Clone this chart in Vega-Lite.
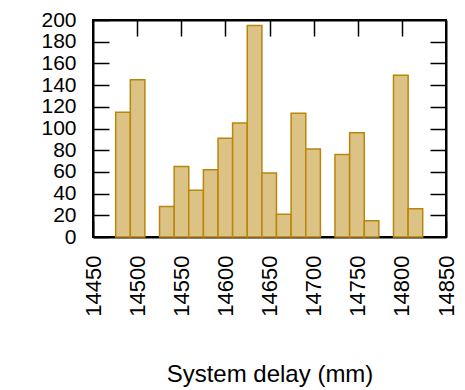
{
  "$schema": "https://vega.github.io/schema/vega-lite/v6.json",
  "width": 353,
  "height": 217,
  "autosize": {"type": "none"},
  "padding": {"left": 93, "top": 20, "right": 19, "bottom": 153},
  "background": "white",
  "config": {
    "font": "Liberation Sans",
    "view": {"stroke": "black", "strokeWidth": 2},
    "axis": {
      "labelFont": "Liberation Sans",
      "titleFont": "Liberation Sans",
      "labelColor": "black",
      "titleColor": "black",
      "domainColor": "black",
      "domainWidth": 2,
      "tickColor": "black",
      "tickWidth": 1.5,
      "grid": false
    }
  },
  "data": {
    "values": [
      {"bin_start": 14475.7, "bin_end": 14492.3, "count": 115},
      {"bin_start": 14492.3, "bin_end": 14508.8, "count": 145},
      {"bin_start": 14525.4, "bin_end": 14542.0, "count": 28},
      {"bin_start": 14542.0, "bin_end": 14558.5, "count": 65},
      {"bin_start": 14558.5, "bin_end": 14575.1, "count": 43},
      {"bin_start": 14575.1, "bin_end": 14591.7, "count": 62},
      {"bin_start": 14591.7, "bin_end": 14608.2, "count": 91},
      {"bin_start": 14608.2, "bin_end": 14624.8, "count": 105},
      {"bin_start": 14624.8, "bin_end": 14641.4, "count": 195},
      {"bin_start": 14641.4, "bin_end": 14657.9, "count": 59},
      {"bin_start": 14657.9, "bin_end": 14674.5, "count": 21},
      {"bin_start": 14674.5, "bin_end": 14691.1, "count": 114},
      {"bin_start": 14691.1, "bin_end": 14707.7, "count": 81},
      {"bin_start": 14724.2, "bin_end": 14740.8, "count": 76},
      {"bin_start": 14740.8, "bin_end": 14757.4, "count": 96},
      {"bin_start": 14757.4, "bin_end": 14773.9, "count": 15},
      {"bin_start": 14790.5, "bin_end": 14807.1, "count": 149},
      {"bin_start": 14807.1, "bin_end": 14823.6, "count": 26}
    ]
  },
  "layer": [
    {
      "mark": {"type": "bar", "opacity": 0},
      "encoding": {
        "x": {
          "field": "bin_start", "type": "quantitative",
          "scale": {"domain": [14450, 14850], "nice": false, "zero": false},
          "axis": {"orient": "top", "labels": false, "title": null, "values": [14500, 14550, 14600, 14650, 14700, 14750, 14800], "tickSize": -16}
        },
        "x2": {"field": "bin_end"},
        "y": {
          "field": "count", "type": "quantitative", "stack": null,
          "scale": {"domain": [0, 200], "nice": false},
          "axis": {"orient": "right", "labels": false, "title": null, "values": [20, 40, 60, 80, 100, 120, 140, 160, 180], "tickSize": -16}
        },
        "y2": {"datum": 0}
      }
    },
    {
      "mark": {"type": "bar", "fill": "#dcc385", "stroke": "#b8860b", "strokeWidth": 1.5, "fillOpacity": 1},
      "encoding": {
        "x": {
          "field": "bin_start", "type": "quantitative",
          "scale": {"domain": [14450, 14850], "nice": false, "zero": false},
          "axis": {"orient": "bottom", "format": "d", "title": "System delay (mm)", "titleFontSize": 24, "titleFontWeight": "normal", "titlePadding": 46, "labelFontSize": 22, "labelAngle": -90, "values": [14450, 14500, 14550, 14600, 14650, 14700, 14750, 14800, 14850], "tickSize": -16, "labelPadding": 34, "labelFlush": false, "labelOverlap": false}
        },
        "x2": {"field": "bin_end"},
        "y": {
          "field": "count", "type": "quantitative", "stack": null,
          "scale": {"domain": [0, 200], "nice": false},
          "axis": {"orient": "left", "title": null, "labelFontSize": 21, "values": [0, 20, 40, 60, 80, 100, 120, 140, 160, 180, 200], "tickSize": -16, "labelPadding": 33, "labelFlush": false, "labelOverlap": false}
        },
        "y2": {"datum": 0}
      }
    }
  ],
  "resolve": {"axis": {"x": "independent", "y": "independent"}}
}
